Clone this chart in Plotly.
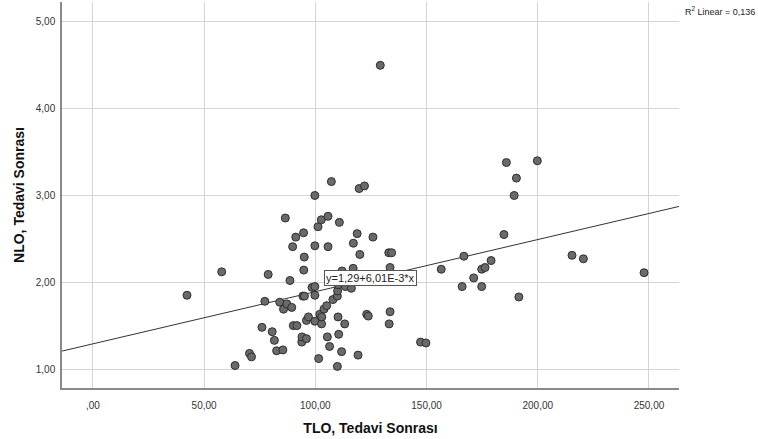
import plotly.graph_objects as go

tlo = [42.3, 57.9, 63.9, 70.4, 71.3, 76.0, 77.3, 78.8, 80.6, 81.6, 82.6, 84.0, 85.4, 85.7,
       86.5, 87.2, 88.6, 89.4, 89.8, 90.1, 91.2, 91.7, 93.9, 94.0, 94.4, 94.7, 94.8, 95.0,
       95.1, 96.0, 96.0, 96.9, 98.5, 99.8, 99.8, 99.8, 99.8, 99.8, 101.2, 101.5, 102.0,
       102.7, 102.8, 102.9, 103.9, 105.1, 105.4, 105.7, 105.7, 106.4, 107.2, 107.9, 109.9,
       109.9, 110.0, 110.2, 110.5, 110.8, 111.8, 112.0, 110.3, 113.5, 116.2, 113.2, 117.1,
       117.0, 118.8, 119.2, 119.7, 120.0, 122.1, 123.1, 123.8, 125.9, 129.2, 133.0, 133.2,
       133.6, 133.6, 134.3, 147.3, 149.7, 156.6, 166.0, 166.8, 171.2, 174.8, 174.8, 176.3,
       179.0, 184.8, 185.9, 189.4, 190.4, 191.5, 199.8, 215.4, 220.5, 247.8]
nlo = [1.85, 2.12, 1.04, 1.18, 1.14, 1.48, 1.78, 2.09, 1.43, 1.33, 1.21, 1.77, 1.22, 1.69,
       2.74, 1.75, 2.02, 1.71, 2.41, 1.50, 2.52, 1.50, 1.31, 1.37, 1.84, 2.57, 2.14, 2.29,
       1.84, 1.35, 1.56, 1.60, 1.94, 3.00, 2.42, 1.95, 1.85, 1.55, 2.64, 1.12, 1.63,
       2.72, 1.52, 1.60, 1.69, 1.73, 1.37, 2.41, 2.76, 1.26, 3.16, 1.80, 1.03,
       1.84, 1.90, 1.60, 1.40, 2.69, 1.20, 2.13, 1.97, 1.95, 1.93, 1.52, 2.45,
       2.16, 2.56, 1.16, 3.08, 2.32, 3.11, 1.63, 1.61, 2.52, 4.50, 2.34, 1.52,
       1.66, 2.17, 2.34, 1.31, 1.30, 2.15, 1.95, 2.30, 2.05, 2.15, 1.95, 2.17,
       2.25, 2.55, 3.38, 3.00, 3.20, 1.83, 3.40, 2.31, 2.27, 2.11]

intercept = 1.29
slope = 0.00601
r2_text = "R<sup>2</sup> Linear = 0,136"
eq_text = "y=1,29+6,01E-3*x"

x_tickvals = [0, 50, 100, 150, 200, 250]
x_ticktext = [",00", "50,00", "100,00", "150,00", "200,00", "250,00"]
y_tickvals = [1, 2, 3, 4, 5]
y_ticktext = ["1,00", "2,00", "3,00", "4,00", "5,00"]

x_range = [-13.9, 263.5]
y_range = [0.781, 5.23]

fig = go.Figure()
fig.add_trace(go.Scatter(
    x=x_range, y=[intercept + slope * v for v in x_range],
    mode="lines", line=dict(color="#333333", width=1), hoverinfo="skip", showlegend=False))
fig.add_trace(go.Scatter(
    x=tlo, y=nlo, mode="markers",
    marker=dict(size=8, color="#6a6a6a", line=dict(color="#2e2e2e", width=1)),
    showlegend=False))

fig.add_annotation(x=124.8, y=2.05, xref="x", yref="y", text=eq_text, showarrow=False,
                   font=dict(family="Liberation Sans, Arial", size=11, color="#222222"),
                   bgcolor="white", bordercolor="#555555", borderwidth=1, borderpad=1)
fig.add_annotation(x=1.0, y=1.0, xref="paper", yref="paper", xanchor="right", yanchor="top",
                   xshift=78, yshift=-1, text=r2_text, showarrow=False,
                   font=dict(family="Liberation Sans, Arial", size=9, color="#222222"))

fig.update_layout(
    width=758, height=439,
    margin=dict(l=62, r=79, t=2, b=51),
    paper_bgcolor="white", plot_bgcolor="white",
    font=dict(family="Liberation Sans, Arial", color="#333333"),
    xaxis=dict(range=x_range, tickvals=x_tickvals, ticktext=x_ticktext,
               showgrid=True, gridcolor="#d4d4d4", gridwidth=1, zeroline=False,
               showline=True, linecolor="#8a8a8a", linewidth=1.5,
               ticks="outside", ticklen=7, tickcolor="rgba(0,0,0,0)",
               tickfont=dict(size=10, color="#333333"),
               title=dict(text="<b>TLO, Tedavi Sonrası</b>", standoff=13,
                          font=dict(size=14, color="#111111"))),
    yaxis=dict(range=y_range, tickvals=y_tickvals, ticktext=y_ticktext,
               showgrid=True, gridcolor="#d4d4d4", gridwidth=1, zeroline=False,
               showline=True, linecolor="#8a8a8a", linewidth=1.5,
               ticks="outside", ticklen=3, tickcolor="rgba(0,0,0,0)",
               tickfont=dict(size=10, color="#333333"),
               title=dict(text="<b>NLO, Tedavi Sonrası</b>", standoff=8,
                          font=dict(size=14, color="#111111"))),
)

fig.write_html("out.html", config={"displayModeBar": False},
               post_script="document.body.style.margin='0';")
